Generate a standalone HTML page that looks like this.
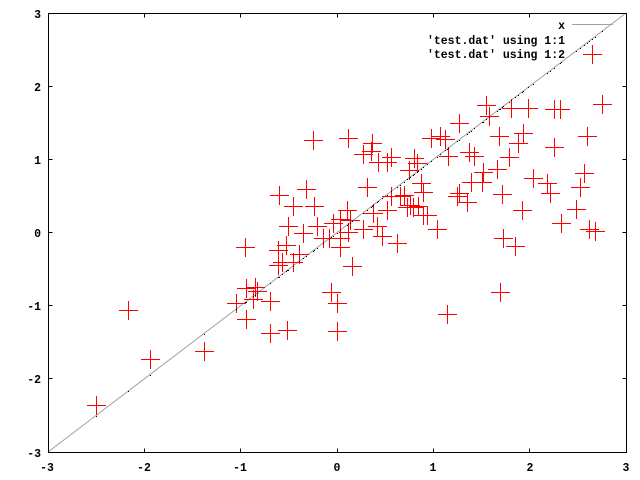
<!DOCTYPE html>
<html><head><meta charset="utf-8"><style>
html,body{margin:0;padding:0;background:#fff;}
svg{display:block;}
text{font-family:"Liberation Mono",monospace;font-size:11.5px;font-weight:bold;fill:#000;}
</style></head><body>
<svg width="640" height="480" viewBox="0 0 640 480" xmlns="http://www.w3.org/2000/svg">
<rect x="0" y="0" width="640" height="480" fill="#fff"/>
<!-- diagonal x -->
<line x1="48" y1="452" x2="626" y2="13" stroke="#a0a0a0" stroke-width="1"/>
<!-- frame -->
<g stroke="#000" stroke-width="1" shape-rendering="crispEdges" fill="none">
<rect x="48.5" y="13.5" width="578" height="439"/>
<path d="M144.5 13.5v4M240.5 13.5v4M337.5 13.5v4M433.5 13.5v4M529.5 13.5v4
M144.5 452.5v-4M240.5 452.5v-4M337.5 452.5v-4M433.5 452.5v-4M529.5 452.5v-4
M48.5 86.5h4M48.5 159.5h4M48.5 232.5h4M48.5 305.5h4M48.5 378.5h4
M626.5 86.5h-4M626.5 159.5h-4M626.5 232.5h-4M626.5 305.5h-4M626.5 378.5h-4"/>
</g>
<!-- y labels -->
<g text-anchor="end">
<text x="41" y="18">3</text>
<text x="41" y="91">2</text>
<text x="41" y="164">1</text>
<text x="41" y="237">0</text>
<text x="41" y="310">-1</text>
<text x="41" y="383">-2</text>
<text x="41" y="457">-3</text>
</g>
<g text-anchor="middle">
<text x="47" y="471">-3</text>
<text x="144" y="471">-2</text>
<text x="240" y="471">-1</text>
<text x="337" y="471">0</text>
<text x="433" y="471">1</text>
<text x="530" y="471">2</text>
<text x="626" y="471">3</text>
</g>
<!-- legend -->
<g text-anchor="end">
<text x="565" y="29">x</text>
<text x="565" y="44">'test.dat' using 1:1</text>
<text x="565" y="58">'test.dat' using 1:2</text>
</g>
<line x1="572" y1="24.5" x2="613" y2="24.5" stroke="#a0a0a0" stroke-width="1" shape-rendering="crispEdges"/>
<!-- crosses -->
<g id="pts" stroke="#ff0000" stroke-width="1" shape-rendering="crispEdges" fill="none"></g>
<g id="dots" fill="#000"></g>
</svg>
<script>
var P=[[96,405],[128,310],[150,359],[204,351],[236,303],[245,247],[246,288],[255,287],[257,291],[253,299],[270,301],[246,319],[270,333],[287,330],[278,265],[282,262],[293,262],[299,254],[286,245],[278,250],
[279,195],[306,189],[293,206],[314,206],[288,226],[317,226],[303,233],[313,140],[348,138],[372,143],[363,154],[371,151],[378,162],[387,162],[391,157],[367,187],[391,196],[387,210],[352,266],[331,292],[337,303],[337,331],[347,210],[340,219],[333,223],[350,220],[340,238],[329,238],[340,247],[348,232],[363,229],[373,213],[377,226],[382,236],[397,243],[323,238],[400,196],
[414,158],[417,163],[409,170],[423,192],[410,205],[413,207],[423,215],
[592,54],[602,104],[486,105],[511,108],[528,108],[554,109],[560,109],[489,116],[459,123],[499,136],[523,133],[518,143],[587,136],[554,147],[431,138],[440,136],[445,139],[469,152],[474,156],[448,156],[509,157],[483,172],[497,169],[584,173],[533,178],[547,183],[550,193],[580,187],[482,182],[471,182],[421,183],[502,194],[522,210],[459,193],[457,196],[467,202],[404,195],[407,207],[418,206],[427,215],[437,229],[576,209],[561,223],[589,229],[595,231],[503,238],[515,246],[500,292],[447,314]];
var d="",dd="";
for(var i=0;i<P.length;i++){var x=P[i][0],y=P[i][1];
d+="M"+(x-9)+" "+(y+0.5)+"h19M"+(x+0.5)+" "+(y-9)+"v19";
var dy=Math.round(452-(x-48)*439/578);dd+='<rect x="'+x+'" y="'+dy+'" width="1" height="1"/>';}
var g=document.getElementById("pts");
g.innerHTML='<path d="'+d+'"/>';
document.getElementById("dots").innerHTML=dd;
</script>
</body></html>
